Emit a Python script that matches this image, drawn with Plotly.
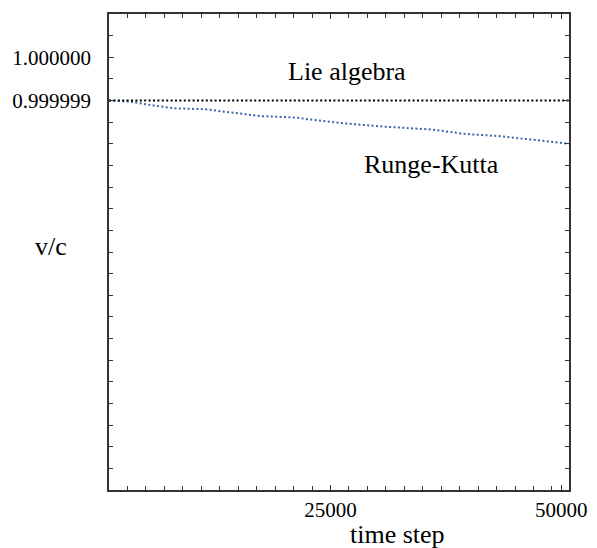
import plotly.graph_objects as go

# Data
time_steps = [1000, 3100, 6000, 8100, 11350, 13800, 17450, 21000, 24500, 26100,
              30600, 36000, 39500, 43150, 46700, 50200, 50850]
runge_kutta = [0.999999, 0.99999898, 0.99999888, 0.99999882, 0.9999988, 0.99999874,
               0.99999864, 0.99999861, 0.99999853, 0.99999848, 0.9999984, 0.99999833,
               0.99999823, 0.99999818, 0.9999981, 0.99999802, 0.999998]
lie_x = [1000, 50850]
lie_algebra = [0.999999, 0.999999]

x_tickvals = [25000, 50000]
x_ticktext = ["25000", "50000"]
y_tickvals = [1.000000, 0.999999]
y_ticktext = ["1.000000", "0.999999"]

FONT = "Liberation Serif"

fig = go.Figure()
fig.add_trace(go.Scatter(x=time_steps, y=runge_kutta, mode="lines",
                         line=dict(color="#3a66a8", width=2, dash="2px,2.4px"),
                         showlegend=False, hoverinfo="skip"))
fig.add_trace(go.Scatter(x=lie_x, y=lie_algebra, mode="lines",
                         line=dict(color="black", width=2, dash="2px,2.4px"),
                         showlegend=False, hoverinfo="skip"))

# page body has an 8px margin; the figure is sized/margined so the plot box
# lands at x 103..569, y 12..490 in the window
OFF = 8
fig.update_layout(
    width=597 - OFF, height=548 - OFF,
    margin=dict(l=103 - OFF, r=28, t=12 - OFF, b=58),
    paper_bgcolor="white", plot_bgcolor="white",
    font=dict(family=FONT, color="black", size=21),
    xaxis=dict(range=[1000, 50850], tickmode="array", tickvals=x_tickvals,
               ticktext=x_ticktext, ticks="inside", ticklen=5, tickwidth=1,
               tickcolor="#333", showline=True, linecolor="#333", linewidth=1.5,
               mirror="allticks", showgrid=False, zeroline=False,
               tickfont=dict(family=FONT, size=21, color="black"),
               ticklabelstandoff=0,
               minor=dict(tick0=1000, dtick=2000, ticks="inside", ticklen=4,
                          tickcolor="#333", showgrid=False)),
    yaxis=dict(range=[0.99999, 1.000001], tickmode="array", tickvals=y_tickvals,
               ticktext=y_ticktext, ticks="inside", ticklen=5, tickwidth=1,
               tickcolor="#333", showline=True, linecolor="#333", linewidth=1.5,
               mirror="allticks", showgrid=False, zeroline=False,
               tickfont=dict(family=FONT, size=21, color="black"),
               ticklabelstandoff=12,
               minor=dict(tick0=0.99999, dtick=5e-7, ticks="inside", ticklen=4,
                          tickcolor="#333", showgrid=False)),
    annotations=[
        dict(text="Lie algebra", x=344, y=70, xref="paper", yref="paper",
             showarrow=False, font=dict(family=FONT, size=26)),
        dict(text="Runge-Kutta", x=430, y=163, xref="paper", yref="paper",
             showarrow=False, font=dict(family=FONT, size=26)),
        dict(text="v/c", x=44, y=245, xref="paper", yref="paper",
             showarrow=False, font=dict(family=FONT, size=26)),
        dict(text="time step", x=395, y=535, xref="paper", yref="paper",
             showarrow=False, font=dict(family=FONT, size=26)),
    ],
)

# convert window-pixel annotation placements to paper coordinates
PL, PR, PT, PB = 103, 569, 12, 490
for a in fig.layout.annotations:
    px, py = a.x, a.y
    a.x = (px - PL) / (PR - PL)
    a.y = 1 - (py - PT) / (PB - PT)
    a.xanchor = "center"
    a.yanchor = "middle"

fig.write_html("out.html")
